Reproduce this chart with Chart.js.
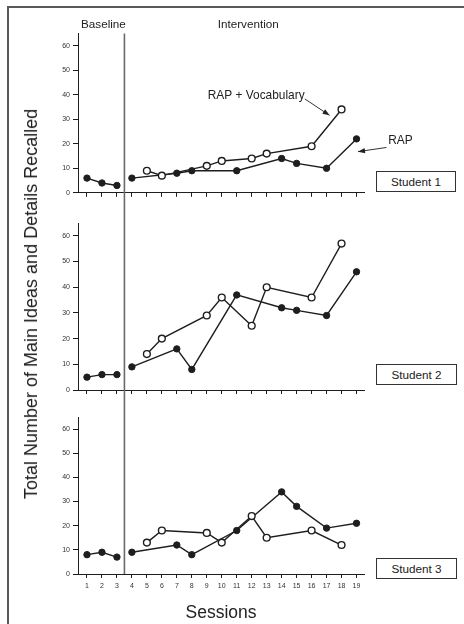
<!DOCTYPE html>
<html><head><meta charset="utf-8">
<script src="https://cdn.jsdelivr.net/npm/chart.js@4.4.1/dist/chart.umd.min.js"></script>
<style>
html,body{margin:0;padding:0;background:#fff;}
#wrap{position:relative;width:464px;height:624px;overflow:hidden;font-family:"Liberation Sans",Arial,sans-serif;color:#222;}
.frame{position:absolute;left:7px;top:6px;width:480px;height:650px;border-top:2px solid #5a5a5a;border-left:2px solid #5a5a5a;}
.cv{position:absolute;left:0;}
.ytitle{position:absolute;left:31px;top:304px;transform:translate(-50%,-50%) rotate(-90deg);white-space:nowrap;font-size:18px;line-height:18px;color:#222;}
.box{position:absolute;box-sizing:border-box;border:1px solid #333;font-size:11.7px;display:flex;align-items:center;justify-content:center;color:#222;background:#fff;}
</style>
</head><body>
<div id="wrap">
  <div class="frame"></div>
  <canvas id="c1" class="cv" style="top:0px" width="464" height="200"></canvas>
  <canvas id="c2" class="cv" style="top:200px" width="464" height="200"></canvas>
  <canvas id="c3" class="cv" style="top:400px" width="464" height="224"></canvas>
  <div class="ytitle">Total Number of Main Ideas and Details Recalled</div>
  <div class="box" style="left:376px;top:171px;width:80px;height:21px;">Student 1</div>
  <div class="box" style="left:376px;top:364px;width:81px;height:21px;">Student 2</div>
  <div class="box" style="left:376px;top:558px;width:81px;height:21px;">Student 3</div>
</div>
<script>
// ---- data ----
const sessions = [1,2,3,4,5,6,7,8,9,10,11,12,13,14,15,16,17,18,19];
const yTicks = [0,10,20,30,40,50,60];
const baselineSessions = [1,2,3];
const rapSessions = [4,7,8,11,14,15,17,19];
const vocabSessions = [5,6,9,10,12,13,16,18];

const student1Baseline = [6,4,3];
const student1Rap = [6,8,9,9,14,12,10,22];
const student1Vocab = [9,7,11,13,14,16,19,34];

const student2Baseline = [5,6,6];
const student2Rap = [9,16,8,37,32,31,29,46];
const student2Vocab = [14,20,29,36,25,40,36,57];

const student3Baseline = [8,9,7];
const student3Rap = [9,12,8,18,34,28,19,21];
const student3Vocab = [13,18,17,13,24,15,18,12];

const phaseChange = 3.5;

function pts(xs, ys){ return xs.map((x,i)=>({x:x, y:ys[i]})); }

const INK = '#1e1e1e';
const filledStyle = {borderColor:INK, borderWidth:1.4, pointRadius:3.2, pointBackgroundColor:INK, pointBorderColor:INK, pointBorderWidth:1, tension:0, order:1};
const openStyle = {borderColor:INK, borderWidth:1.4, pointRadius:3.4, pointBackgroundColor:'#fff', pointBorderColor:INK, pointBorderWidth:1.4, tension:0, order:0};

const phasePlugin = {
  id:'phase',
  afterDatasetsDraw(chart, args, opts){
    const {ctx, scales:{x,y}, chartArea} = chart;
    const px = x.getPixelForValue(phaseChange);
    const y0 = opts.fromValue !== undefined ? y.getPixelForValue(opts.fromValue) : 0;
    const y1 = opts.toAxis ? chartArea.bottom : chart.height;
    ctx.save();
    ctx.strokeStyle = '#6a6a6a';
    ctx.lineWidth = 1.6;
    ctx.beginPath(); ctx.moveTo(px, y0); ctx.lineTo(px, y1); ctx.stroke();
    ctx.restore();
  }
};

function arrow(ctx, x0,y0,x1,y1){
  ctx.beginPath(); ctx.moveTo(x0,y0); ctx.lineTo(x1,y1); ctx.stroke();
  const a = Math.atan2(y1-y0, x1-x0), L=7, W=2.6;
  ctx.beginPath();
  ctx.moveTo(x1,y1);
  ctx.lineTo(x1 - L*Math.cos(a) + W*Math.sin(a), y1 - L*Math.sin(a) - W*Math.cos(a));
  ctx.lineTo(x1 - L*Math.cos(a) - W*Math.sin(a), y1 - L*Math.sin(a) + W*Math.cos(a));
  ctx.closePath(); ctx.fill();
}

const labelPlugin = {
  id:'labels',
  afterDraw(chart, args, opts){
    if(!opts.texts) return;
    const {ctx, scales:{x,y}} = chart;
    ctx.save();
    ctx.fillStyle = '#222'; ctx.strokeStyle = '#333'; ctx.lineWidth = 1;
    ctx.textAlign = 'center'; ctx.textBaseline = 'middle';
    for(const t of opts.texts){
      ctx.font = t.size + 'px "Liberation Sans", Arial, sans-serif';
      ctx.fillText(t.text, x.getPixelForValue(t.x), y.getPixelForValue(t.y));
    }
    for(const a of (opts.arrows||[])){
      arrow(ctx, x.getPixelForValue(a[0]), y.getPixelForValue(a[1]), x.getPixelForValue(a[2]), y.getPixelForValue(a[3]));
    }
    ctx.restore();
  }
};

function makeChart(id, base, rap, vocab, o){
  const tickFont = {family:'"Liberation Sans", Arial, sans-serif', size:7};
  return new Chart(document.getElementById(id), {
    type:'line',
    data:{datasets:[
      Object.assign({data:pts(baselineSessions, base)}, filledStyle),
      Object.assign({data:pts(rapSessions, rap)}, filledStyle),
      Object.assign({data:pts(vocabSessions, vocab)}, openStyle)
    ]},
    options:{
      responsive:false, animation:false, events:[],
      layout:{padding:{top:o.top, right:100, left:0, bottom:0}},
      plugins:{legend:{display:false}, tooltip:{enabled:false},
        phase:{fromValue:o.phaseFrom, toAxis:o.toAxis},
        labels:{texts:o.texts, arrows:o.arrows}},
      scales:{
        x:{type:'linear', min:0.4, max:19.5,
          afterBuildTicks:(ax)=>{ ax.ticks = sessions.map(v=>({value:v})); },
          afterFit:(ax)=>{ ax.height = o.xHeight; },
          ticks:{display:o.showX, font:tickFont, color:'#333', padding:4, maxRotation:0, autoSkip:false},
          grid:{drawOnChartArea:false, drawTicks:true, tickLength:4, color:INK, tickWidth:1},
          border:{color:INK, width:1},
          title:{display:!!o.xTitle, text:o.xTitle||'', color:'#222', font:{family:'"Liberation Sans", Arial, sans-serif', size:17.5}, padding:{top:10, bottom:0}}
        },
        y:{type:'linear', min:0, max:65,
          afterBuildTicks:(ax)=>{ ax.ticks = yTicks.map(v=>({value:v})); },
          afterFit:(ax)=>{ ax.width = 78; },
          ticks:{font:tickFont, color:'#333', padding:3},
          grid:{drawOnChartArea:false, drawTicks:true, tickLength:5, color:INK},
          border:{color:INK, width:1}
        }
      }
    },
    plugins:[phasePlugin, labelPlugin]
  });
}

makeChart('c1', student1Baseline, student1Rap, student1Vocab, {
  top:33.5, xHeight:4, showX:false, phaseFrom:65, toAxis:false,
  texts:[{text:'Baseline', x:2.1, y:68.6, size:11.7},{text:'Intervention', x:11.77, y:68.6, size:11.7},
         {text:'RAP + Vocabulary', x:12.3, y:39.6, size:11.9},{text:'RAP', x:21.93, y:21.2, size:11.9}],
  arrows:[[15.55,38.3,17.2,31.6],[21.0,18.5,19.1,16.8]]
});
makeChart('c2', student2Baseline, student2Rap, student2Vocab, {
  top:23, xHeight:10, showX:false, toAxis:false
});
makeChart('c3', student3Baseline, student3Rap, student3Vocab, {
  top:17, xHeight:50, showX:true, toAxis:true, xTitle:'Sessions'
});
</script>
</body></html>
